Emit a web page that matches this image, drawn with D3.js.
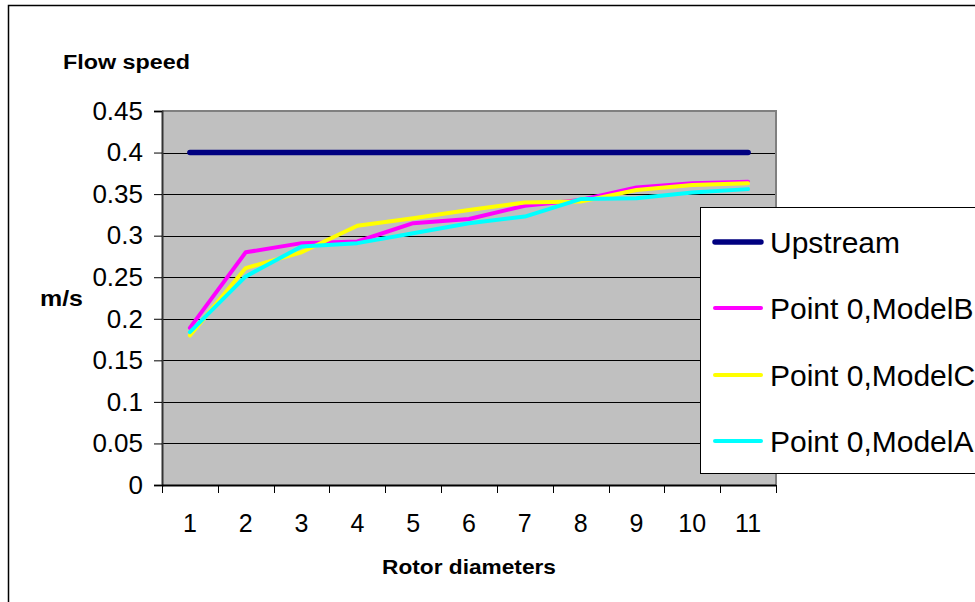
<!DOCTYPE html>
<html>
<head>
<meta charset="utf-8">
<script src="https://cdn.jsdelivr.net/npm/d3@7"></script>
<style>
  html, body { margin: 0; padding: 0; background: #fff; }
  svg { display: block; font-family: "Liberation Sans", Arial, sans-serif; }
</style>
</head>
<body>
<svg id="chart" width="975" height="602"></svg>
<script>
// Rotor diameters downstream (category axis)
const categories = ["1", "2", "3", "4", "5", "6", "7", "8", "9", "10", "11"];

// Flow speed in m/s for each series
const upstream = [0.4, 0.4, 0.4, 0.4, 0.4, 0.4, 0.4, 0.4, 0.4, 0.4, 0.4];
const modelB = [0.189, 0.280, 0.291, 0.293, 0.315, 0.320, 0.336, 0.343, 0.358, 0.363, 0.365];
const modelC = [0.180, 0.261, 0.280, 0.312, 0.321, 0.331, 0.340, 0.341, 0.355, 0.361, 0.363];
const modelA = [0.184, 0.251, 0.287, 0.291, 0.303, 0.315, 0.323, 0.344, 0.345, 0.352, 0.356];

const yTicks = [0, 0.05, 0.1, 0.15, 0.2, 0.25, 0.3, 0.35, 0.4, 0.45];

const seriesNames = ["Upstream", "Point 0,ModelB", "Point 0,ModelC", "Point 0,ModelA"];
const seriesColors = ["#000080", "#ff00ff", "#ffff00", "#00ffff"];
const seriesWidths = [5.5, 4, 4, 4];

const series = [upstream, modelB, modelC, modelA].map((values, i) => ({
  name: seriesNames[i], values, color: seriesColors[i], width: seriesWidths[i]
}));

const svg = d3.select("#chart");
const plot = { left: 162, top: 111, right: 776, bottom: 485 };

// Outer chart frame
svg.append("rect")
  .attr("x", 8.5).attr("y", 5.5)
  .attr("width", 1000).attr("height", 1000)
  .attr("fill", "#fff").attr("stroke", "#000").attr("stroke-width", 1.5);

const x = d3.scaleBand().domain(categories).range([plot.left, plot.right]);
const y = d3.scaleLinear().domain([0, 0.45]).range([plot.bottom, plot.top]);

// Plot background
svg.append("rect")
  .attr("x", plot.left).attr("y", plot.top)
  .attr("width", plot.right - plot.left).attr("height", plot.bottom - plot.top)
  .attr("fill", "#c0c0c0");

// Horizontal gridlines
svg.append("g")
  .selectAll("line")
  .data(yTicks.filter(t => t > 0 && t < 0.45))
  .join("line")
  .attr("x1", plot.left).attr("x2", plot.right)
  .attr("y1", d => Math.round(y(d)) + 0.5).attr("y2", d => Math.round(y(d)) + 0.5)
  .attr("stroke", "#000").attr("stroke-width", 1);

// Plot border (top and right, grey)
svg.append("path")
  .attr("d", `M${plot.left},${plot.top} H${plot.right} V${plot.bottom}`)
  .attr("fill", "none").attr("stroke", "#808080").attr("stroke-width", 2);

// Y axis
const yAxis = svg.append("g")
  .attr("transform", `translate(${plot.left},0)`)
  .call(d3.axisLeft(y).tickValues(yTicks).tickSize(8).tickPadding(11)
    .tickFormat(d => String(+d.toFixed(2))));
yAxis.select(".domain").attr("stroke", "#333").attr("stroke-width", 2);
yAxis.selectAll(".tick line").attr("stroke", "#000");
yAxis.selectAll(".tick text")
  .attr("font-size", 26).attr("fill", "#000")
  .attr("font-family", "'Liberation Sans', Arial, sans-serif");

// X axis: tick marks at category boundaries, labels centred in bands
const xAxisG = svg.append("g").attr("transform", `translate(0,${plot.bottom})`);
xAxisG.append("line")
  .attr("x1", plot.left).attr("x2", plot.right)
  .attr("y1", 0.5).attr("y2", 0.5)
  .attr("stroke", "#000").attr("stroke-width", 2);
const boundaries = categories.map(c => x(c)).concat([x(categories[categories.length - 1]) + x.bandwidth()]);
xAxisG.selectAll("line.tick")
  .data(boundaries)
  .join("line").attr("class", "tick")
  .attr("x1", d => Math.round(d) + 0.5).attr("x2", d => Math.round(d) + 0.5)
  .attr("y1", 0).attr("y2", 8)
  .attr("stroke", "#000").attr("stroke-width", 1);
xAxisG.selectAll("text")
  .data(categories)
  .join("text")
  .attr("x", d => x(d) + x.bandwidth() / 2)
  .attr("y", 47)
  .attr("text-anchor", "middle")
  .attr("font-size", 25)
  .text(d => d);

// Series lines
const line = d3.line()
  .x((d, i) => x(categories[i]) + x.bandwidth() / 2)
  .y(d => y(d));

svg.append("g")
  .selectAll("path")
  .data(series)
  .join("path")
  .attr("d", d => line(d.values))
  .attr("fill", "none")
  .attr("stroke", d => d.color)
  .attr("stroke-width", d => d.width)
  .attr("stroke-linecap", "round")
  .attr("stroke-linejoin", "round");

// Axis titles
svg.append("text")
  .attr("x", 63).attr("y", 69)
  .attr("font-size", 20).attr("font-weight", "bold")
  .attr("textLength", 127).attr("lengthAdjust", "spacingAndGlyphs")
  .text("Flow  speed");

svg.append("text")
  .attr("x", 40).attr("y", 306)
  .attr("font-size", 22).attr("font-weight", "bold")
  .attr("textLength", 43).attr("lengthAdjust", "spacingAndGlyphs")
  .text("m/s");

svg.append("text")
  .attr("x", (plot.left + plot.right) / 2).attr("y", 574)
  .attr("text-anchor", "middle")
  .attr("font-size", 21).attr("font-weight", "bold")
  .attr("textLength", 174).attr("lengthAdjust", "spacingAndGlyphs")
  .text("Rotor diameters");

// Legend
const legend = svg.append("g");
legend.append("rect")
  .attr("x", 700.5).attr("y", 207.5)
  .attr("width", 400).attr("height", 266)
  .attr("fill", "#fff").attr("stroke", "#000").attr("stroke-width", 1);

const legendRows = [242, 308, 375, 441];
const item = legend.selectAll("g.item")
  .data(series)
  .join("g").attr("class", "item")
  .attr("transform", (d, i) => `translate(0,${legendRows[i]})`);
item.append("line")
  .attr("x1", 715).attr("x2", 761)
  .attr("stroke", d => d.color)
  .attr("stroke-width", d => d.width)
  .attr("stroke-linecap", "round");
item.append("text")
  .attr("x", 770).attr("dy", "0.36em")
  .attr("font-size", 30)
  .text(d => d.name);
</script>
</body>
</html>
